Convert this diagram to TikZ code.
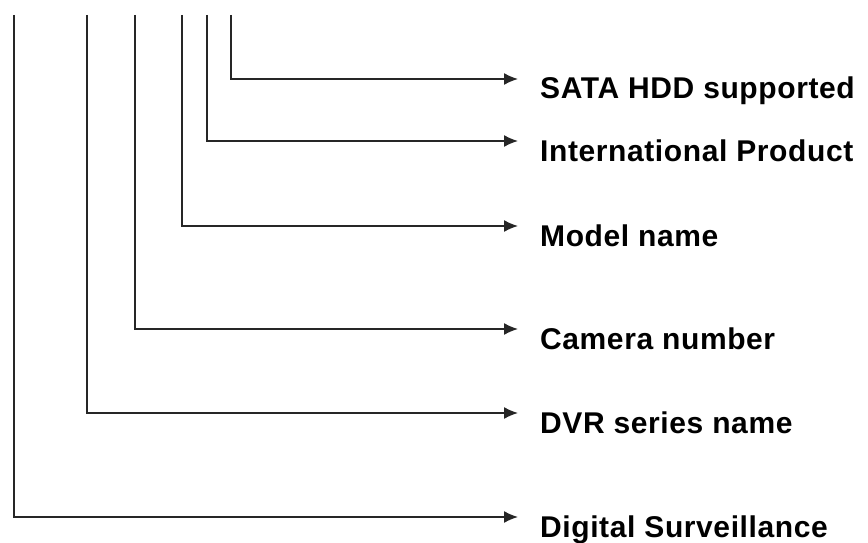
\documentclass[tikz,border=0pt]{standalone}
\usepackage{fontspec}
\setmainfont{Liberation Sans}
\newfontfamily\fieldfont[LetterSpace=2]{Liberation Sans}
\usetikzlibrary{arrows.meta,positioning}

\begin{document}
\begin{tikzpicture}[
    x=1pt, y=-1pt,
    >={Latex[length=14pt,width=12pt]},
    field/.style={
        font=\fieldfont\fontsize{30}{36}\selectfont\bfseries,
        inner sep=0pt,
        anchor=base west
    },
    lead/.style={
        ->,
        line width=1.5pt,
        black!85
    }
]
\useasboundingbox (0,0) rectangle (868,543);

% Upper ends of the leads (one per code position)
\coordinate (topdigital) at (14,15);
\coordinate (topseries) at (87,15);
\coordinate (topcamera) at (135,15);
\coordinate (topmodel) at (182,15);
\coordinate (topintl) at (207,15);
\coordinate (topsata) at (231,15);

% Arrow tips
\coordinate (tipsata) at (518,79);
\coordinate (tipintl) at (518,141);
\coordinate (tipmodel) at (518,226);
\coordinate (tipcamera) at (518,329);
\coordinate (tipseries) at (518,413);
\coordinate (tipdigital) at (518,517);

% Field names
\node[field] (sata) at (540,99) {SATA HDD supported};
\node[field] (intl) at (540,161) {International Product};
\node[field] (model) at (540,246) {Model name};
\node[field] (camera) at (540,349) {Camera number};
\node[field] (series) at (540,433) {DVR series name};
\node[field] (digital) at (540,537) {Digital Surveillance};

% Leads
\draw[lead] (topsata) |- (tipsata);
\draw[lead] (topintl) |- (tipintl);
\draw[lead] (topmodel) |- (tipmodel);
\draw[lead] (topcamera) |- (tipcamera);
\draw[lead] (topseries) |- (tipseries);
\draw[lead] (topdigital) |- (tipdigital);

\end{tikzpicture}
\end{document}
